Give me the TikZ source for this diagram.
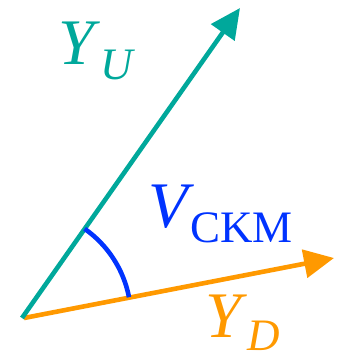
\documentclass[tikz,border=0pt]{standalone}
\usepackage{fontspec}
\setmainfont{Liberation Serif}
\usetikzlibrary{arrows.meta}
\definecolor{yu}{RGB}{0,168,155}
\definecolor{yd}{RGB}{255,153,0}
\definecolor{vb}{RGB}{0,51,255}
\newcommand{\lowsub}[1]{\raisebox{-15pt}{\fontsize{45}{45}\selectfont #1}}
\tikzset{
  vec/.style={line width=4.6pt, -{Triangle[length=30pt,width=28pt]}},
  lbl/.style={inner sep=0pt, anchor=base west, font=\fontsize{65}{70}\selectfont},
}
\begin{document}
\begin{tikzpicture}[x=1pt,y=1pt]
\useasboundingbox (0,0) rectangle (348,362);
\coordinate (O) at (22,44);
\coordinate (O2) at (24,44);
\coordinate (U) at (240,354);
\coordinate (D) at (334,104);
\draw[vec, yd] (O2) -- (D);
\draw[vec, yu] (O) -- (U);
\draw[vb, line width=4.6pt] (O) ++(54.9:109pt) coordinate (A1) arc[start angle=54.9, end angle=11, radius=109pt] coordinate (A2);
\node[lbl, text=yu] (yU) at (58,297) {\textit{Y}\lowsub{\textit{U}}};
\node[lbl, text=vb] (vC) at (148,134) {\textit{V}\kern-4pt\lowsub{CKM}};
\node[lbl, text=yd] (yD) at (205,24) {\textit{Y}\raisebox{-13pt}{\fontsize{45}{45}\selectfont\textit{D}}};
\end{tikzpicture}
\end{document}
